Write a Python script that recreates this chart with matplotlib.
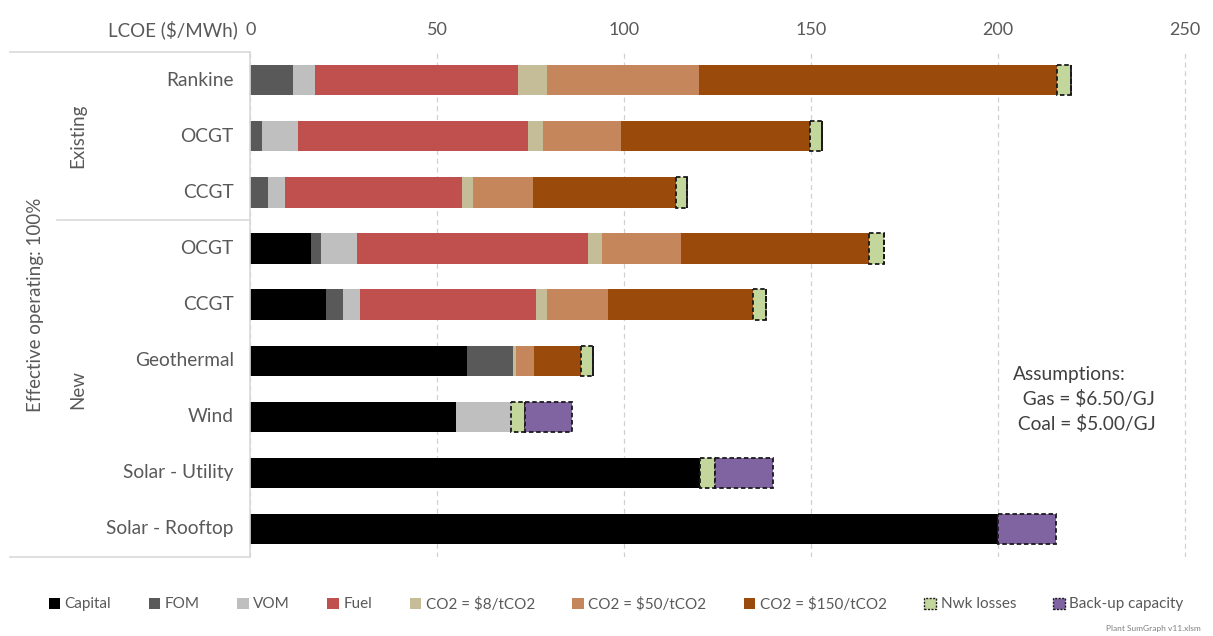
import matplotlib
matplotlib.use('Agg')
import matplotlib.pyplot as plt
import numpy as np
from matplotlib.patches import Patch

plt.rcParams['font.family'] = ['Lato', 'DejaVu Sans']

# Rows from top to bottom
categories = ['Rankine', 'OCGT', 'CCGT', 'OCGT', 'CCGT', 'Geothermal', 'Wind',
              'Solar - Utility', 'Solar - Rooftop']

# LCOE components ($/MWh)
capital = [0, 0, 0, 16.3, 20.3, 58.0, 55.1, 120.2, 200.0]
fom = [11.4, 3.0, 4.8, 2.5, 4.4, 12.2, 0, 0, 0]
vom = [5.9, 9.8, 4.4, 9.8, 4.6, 0, 14.6, 0, 0]
fuel = [54.4, 61.5, 47.4, 61.7, 47.0, 0, 0, 0, 0]
co2_8 = [7.6, 4.0, 3.0, 3.8, 3.1, 0.9, 0, 0, 0]
co2_50 = [40.6, 20.9, 16.1, 21.0, 16.2, 4.8, 0, 0, 0]
co2_150 = [96.0, 50.4, 38.1, 50.3, 38.8, 12.4, 0, 0, 0]
nwk = [3.5, 3.4, 3.1, 4.1, 3.5, 3.3, 3.7, 4.1, 0]
backup = [0, 0, 0, 0, 0, 0, 12.5, 15.6, 15.5]

series = [
    ('Capital', capital, '#000000'),
    ('FOM', fom, '#595959'),
    ('VOM', vom, '#bfbfbf'),
    ('Fuel', fuel, '#c0504d'),
    ('CO2 = $8/tCO2', co2_8, '#c4bd97'),
    ('CO2 = $50/tCO2', co2_50, '#c4865a'),
    ('CO2 = $150/tCO2', co2_150, '#9a4a0b'),
    ('Nwk losses', nwk, '#c3d69b'),
    ('Back-up capacity', backup, '#8064a2'),
]
dashed = ['Nwk losses', 'Back-up capacity']

fig = plt.figure(figsize=(12.13, 6.36), dpi=100)
ax = fig.add_axes([0.2065, 0.1242, 0.7827, 0.7938])

y = np.arange(len(categories))
left = np.zeros(len(categories))
handles = []
for name, vals, col in series:
    vals = np.array(vals, dtype=float)
    if name in dashed:
        ax.barh(y, vals, left=left, height=0.54, color=col, edgecolor='#1a1a1a',
                linewidth=1.3, linestyle=(0, (2.5, 1.5)), zorder=3)
        handles.append(Patch(facecolor=col, edgecolor='#1a1a1a', linestyle=(0, (1.5, 1)),
                             linewidth=1, label=name))
    else:
        ax.barh(y, vals, left=left, height=0.54, color=col, linewidth=0, zorder=2)
        handles.append(Patch(facecolor=col, label=name))
    left += vals

ax.set_ylim(8.5, -0.5)
ax.set_xlim(0, 254)
ax.xaxis.tick_top()
ax.set_xticks([0, 50, 100, 150, 200, 250])
ax.tick_params(axis='x', length=0, pad=10, labelsize=13, labelcolor='#595959')
ax.set_yticks([])
for s in ['top', 'right', 'bottom']:
    ax.spines[s].set_visible(False)
ax.spines['left'].set_color('#d9d9d9')
ax.spines['left'].set_linewidth(1.2)
ax.grid(axis='x', color='#d0d0d0', linestyle=(0, (4, 3)), linewidth=0.9, zorder=0)
ax.set_axisbelow(True)

# category labels and grouping
for i, c in enumerate(categories):
    ax.annotate(c, xy=(0, i), xycoords=('axes fraction', 'data'), xytext=(-12, 0),
                textcoords='offset points', ha='right', va='center', fontsize=13.8,
                color='#595959')

fig.text(0.196, 0.953, 'LCOE ($/MWh)', ha='right', va='center', fontsize=13.5, color='#595959')
fig.text(0.064, 0.787, 'Existing', rotation=90, ha='center', va='center', fontsize=13.5,
         color='#595959')
fig.text(0.064, 0.388, 'New', rotation=90, ha='center', va='center', fontsize=13.5,
         color='#595959')
fig.text(0.029, 0.52, 'Effective operating: 100%', rotation=90, ha='center', va='center',
         fontsize=13.5, color='#595959')

# bracket lines
line_kw = dict(color='#d9d9d9', linewidth=1.2, transform=fig.transFigure)
fig.add_artist(plt.Line2D([0.008, 0.2065], [0.918, 0.918], **line_kw))
fig.add_artist(plt.Line2D([0.047, 0.2065], [0.654, 0.654], **line_kw))
fig.add_artist(plt.Line2D([0.008, 0.2065], [0.1242, 0.1242], **line_kw))

fig.text(0.835, 0.372, 'Assumptions:\n  Gas = $6.50/GJ\n Coal = $5.00/GJ', ha='left',
         va='center', fontsize=13.8, color='#404040', linespacing=1.45)

fig.legend(handles=handles, loc='center', bbox_to_anchor=(0.508, 0.05), ncol=9,
           frameon=False, fontsize=11, handlelength=0.75, handleheight=0.75,
           handletextpad=0.3, columnspacing=2.45, labelcolor='#595959')

fig.text(0.99, 0.012, 'Plant SumGraph v11.xlsm', ha='right', va='center', fontsize=6,
         color='#808080')

fig.savefig('out.png', dpi=100)
